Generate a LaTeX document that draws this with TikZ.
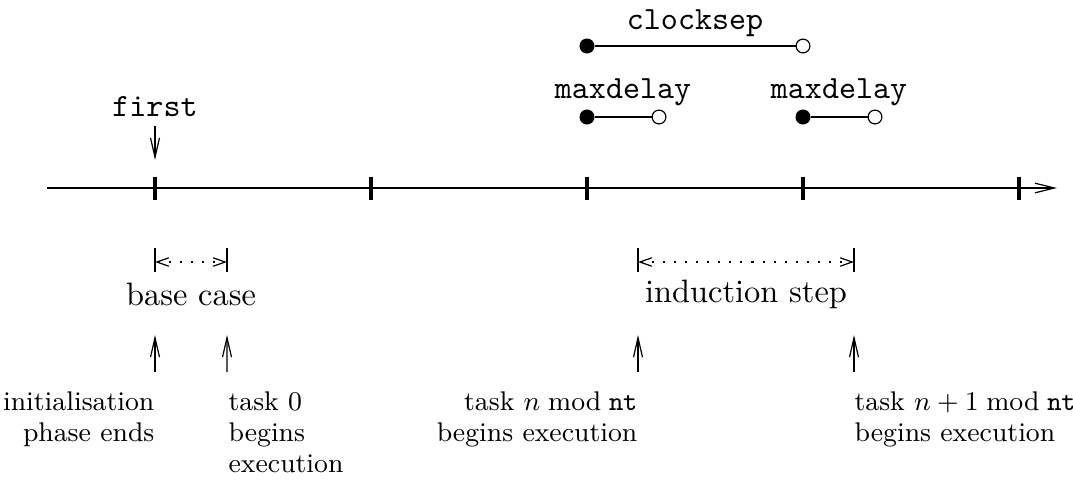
\documentclass[tikz,border=0pt]{standalone}
\usetikzlibrary{arrows.meta}
\begin{document}
\begin{tikzpicture}[x=0.3333pt,y=-0.3333pt,
  thin line/.style={line width=0.4pt},
  tickmark/.style={line width=1.1pt},
  barb/.style={thin line,-{Straight Barb[length=6.5pt,width=3pt]}},
  axisarrow/.style={thin line,-{Straight Barb[length=6.5pt,width=3.2pt]}},
  span/.style={thin line,{Straight Barb[length=4pt,width=2.8pt]}-{Straight Barb[length=4pt,width=2.8pt]},
               dash pattern=on 0.7pt off 3pt},
  fdot/.style={circle,fill=black,draw=black,thin line,inner sep=0pt,minimum size=4.6pt},
  odot/.style={circle,fill=white,draw=black,thin line,inner sep=0pt,minimum size=4.6pt},
  ttlabel/.style={font=\fontsize{10.8}{12}\ttfamily,inner sep=3pt},
  rmlabel/.style={inner sep=0pt,font=\fontsize{10.8}{12}\selectfont},
  note/.style={inner sep=0pt,font=\fontsize{9}{10.33}\selectfont}]
\useasboundingbox (0,0) rectangle (1073,486);

% time axis
\coordinate (axstart) at (47,188);
\coordinate (axend) at (1057,188);
\draw[axisarrow] (axstart) -- (axend);
\foreach \i/\x in {1/155,2/371,3/587,4/803,5/1019}{
  \coordinate (tk\i top) at (\x,177);
  \coordinate (tk\i bot) at (\x,200);
  \draw[tickmark] (tk\i top) -- (tk\i bot);
}

% first
\node[ttlabel,anchor=base] (first) at (155,116) {first};
\draw[barb,shorten >=5.67pt] (first) -- (tk1top);

% clocksep
\node[fdot] (cs1) at (587,46) {};
\node[odot] (cs2) at (803,46) {};
\draw[thin line] (cs1) -- (cs2);
\node[ttlabel,anchor=base] (cslabel) at (695,29) {clocksep};

% maxdelay intervals
\node[fdot] (md1a) at (587,117) {};
\node[odot] (md1b) at (659,117) {};
\draw[thin line] (md1a) -- (md1b);
\node[ttlabel,anchor=base] (md1label) at (623,98) {maxdelay};
\node[fdot] (md2a) at (803,117) {};
\node[odot] (md2b) at (875,117) {};
\draw[thin line] (md2a) -- (md2b);
\node[ttlabel,anchor=base] (md2label) at (839,98) {maxdelay};

% base case span
\coordinate (bcLt) at (155,248); \coordinate (bcLb) at (155,272);
\coordinate (bcRt) at (227,248); \coordinate (bcRb) at (227,272);
\coordinate (bcL) at (155,262); \coordinate (bcR) at (227,262);
\draw[thin line] (bcLt) -- (bcLb);
\draw[thin line] (bcRt) -- (bcRb);
\draw[span] (bcL) -- (bcR);
\node[rmlabel,anchor=base] (bclabel) at (191,305) {base case};

% induction step span
\coordinate (isLt) at (638,248); \coordinate (isLb) at (638,272);
\coordinate (isRt) at (854,248); \coordinate (isRb) at (854,272);
\coordinate (isL) at (638,262); \coordinate (isR) at (854,262);
\draw[thin line] (isLt) -- (isLb);
\draw[thin line] (isRt) -- (isRb);
\draw[span] (isL) -- (isR);
\node[rmlabel,anchor=base] (islabel) at (746,302) {induction step};

% event labels
\node[note,align=right,anchor=north east] (init) at (155,391) {initialisation\\phase ends};
\node[note,align=left,anchor=north west] (task0) at (228,391) {task 0\\begins\\execution};
\node[note,align=right,anchor=north east] (taskn) at (638,391) {task $n \bmod \mathtt{nt}$\\begins execution};
\node[note,align=left,anchor=north west] (taskn1) at (854,391) {task $n+1 \bmod \mathtt{nt}$\\begins execution};

\coordinate (up1) at (155,335);
\coordinate (up2) at (227,335);
\coordinate (up3) at (638,335);
\coordinate (up4) at (854,335);
\draw[barb,shorten <=6.33pt] (init.north east) -- (up1);
\draw[barb,shorten <=6.33pt] ([xshift=-0.33pt]task0.north west) -- (up2);
\draw[barb,shorten <=6.33pt] (taskn.north east) -- (up3);
\draw[barb,shorten <=6.33pt] (taskn1.north west) -- (up4);
\end{tikzpicture}
\end{document}
